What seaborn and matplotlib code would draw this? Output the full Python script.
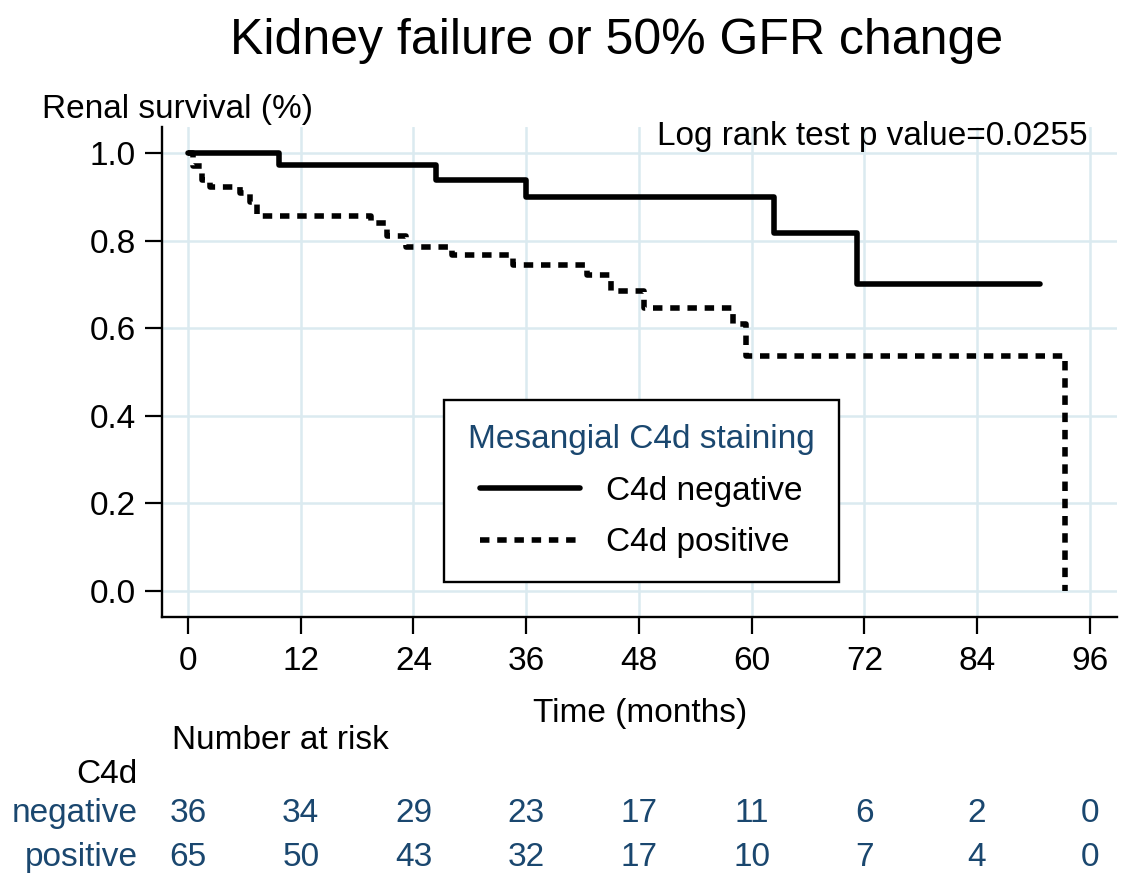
import pandas as pd
import matplotlib
matplotlib.use('Agg')
import matplotlib.pyplot as plt
import matplotlib.transforms as mtransforms
import seaborn as sns

# Kaplan-Meier steps (time in months, survival)
neg_time = [0, 9.7, 26.4, 36.0, 62.4, 71.2, 90.7]
neg_surv = [1.0, 0.972, 0.938, 0.900, 0.817, 0.700, 0.700]

pos_time = [0, 0.5, 1.5, 2.3, 5.5, 6.6, 7.3, 19.5, 21.2, 23.2, 28.1, 34.6,
            42.5, 45.0, 48.5, 58.0, 59.4, 93.4]
pos_surv = [1.0, 0.969, 0.938, 0.923, 0.908, 0.889, 0.855, 0.839, 0.81, 0.786,
            0.767, 0.745, 0.721, 0.684, 0.646, 0.61, 0.536, 0.0]

groups = ['C4d negative', 'C4d positive']

# number at risk table
risk_times = [0, 12, 24, 36, 48, 60, 72, 84, 96]
risk_neg = [36, 34, 29, 23, 17, 11, 6, 2, 0]
risk_pos = [65, 50, 43, 32, 17, 10, 7, 4, 0]

x_ticks = [0, 12, 24, 36, 48, 60, 72, 84, 96]
y_ticks = [0.0, 0.2, 0.4, 0.6, 0.8, 1.0]

df = pd.concat([
    pd.DataFrame({'time': neg_time, 'surv': neg_surv, 'group': groups[0]}),
    pd.DataFrame({'time': pos_time, 'surv': pos_surv, 'group': groups[1]}),
])

sns.set_style('whitegrid', {'grid.color': '#dbeaf0', 'axes.edgecolor': 'black',
                            'text.color': 'black', 'xtick.color': 'black',
                            'ytick.color': 'black'})
plt.rcParams['font.family'] = ['Liberation Sans', 'DejaVu Sans']
plt.rcParams['text.color'] = 'black'

W, H = 1128, 874
navy = '#1a476f'

fig = plt.figure(figsize=(W / 100, H / 100), dpi=100)
ax = fig.add_axes([162 / W, 1 - 617 / H, (1117 - 162) / W, (617 - 127) / H])


def fx(x):
    return x / W


def fy(y):
    return 1 - y / H


sns.lineplot(data=df, x='time', y='surv', hue='group', style='group',
             palette=['black', 'black'], dashes={groups[0]: '', groups[1]: (1.7, 1.4)},
             drawstyle='steps-post', estimator=None, linewidth=4.0, ax=ax)

ax.set_xlim(-2.77, 98.9)
ax.set_ylim(-0.059, 1.059)
ax.set_xticks(x_ticks)
ax.set_yticks(y_ticks)
ax.set_yticklabels([f'{v:.1f}' for v in y_ticks])
ax.set_xlabel('')
ax.set_ylabel('')
ax.grid(True, color='#dbeaf0', linewidth=1.8)
for s in ['top', 'right']:
    ax.spines[s].set_visible(False)
for s in ['left', 'bottom']:
    ax.spines[s].set_color('black')
    ax.spines[s].set_linewidth(1.7)
ax.tick_params(axis='both', which='major', length=12, width=1.6, color='black',
               labelsize=24, labelcolor='black', direction='out',
               bottom=True, left=True)
ax.tick_params(axis='x', pad=9)
ax.tick_params(axis='y', pad=7)

# legend
handles, labels = ax.get_legend_handles_labels()
leg = ax.legend(handles, labels, title='Mesangial C4d staining', loc='upper left',
                bbox_to_anchor=(fx(444), fy(400)), bbox_transform=fig.transFigure,
                borderaxespad=0, fontsize=24, title_fontsize=24, frameon=True,
                fancybox=False, framealpha=1, edgecolor='black', borderpad=0.72,
                handlelength=3.0, handletextpad=0.8, labelspacing=0.62,
                labelcolor='black')
leg.get_frame().set_linewidth(1.7)
leg.get_title().set_color(navy)

# texts
fig.text(fx(617), fy(54), 'Kidney failure or 50% GFR change', ha='center',
         va='baseline', fontsize=36, color='black')
fig.text(fx(42), fy(118), 'Renal survival (%)', ha='left', va='baseline',
         fontsize=24, color='black')
fig.text(fx(1088), fy(145), 'Log rank test p value=0.0255', ha='right',
         va='baseline', fontsize=24, color='black')
fig.text(fx(640), fy(722), 'Time (months)', ha='center', va='baseline',
         fontsize=24, color='black')
fig.text(fx(172), fy(749), 'Number at risk', ha='left', va='baseline',
         fontsize=24, color='black')
fig.text(fx(138), fy(783), 'C4d', ha='right', va='baseline', fontsize=24, color='black')
fig.text(fx(138), fy(822), 'negative', ha='right', va='baseline', fontsize=24, color=navy)
fig.text(fx(138), fy(866), 'positive', ha='right', va='baseline', fontsize=24, color=navy)

trans = mtransforms.blended_transform_factory(ax.transData, fig.transFigure)
for t, n in zip(risk_times, risk_neg):
    ax.text(t, fy(822), str(n), transform=trans, ha='center', va='baseline',
            fontsize=24, color=navy, clip_on=False)
for t, n in zip(risk_times, risk_pos):
    ax.text(t, fy(866), str(n), transform=trans, ha='center', va='baseline',
            fontsize=24, color=navy, clip_on=False)

fig.savefig('out.png', dpi=100)
